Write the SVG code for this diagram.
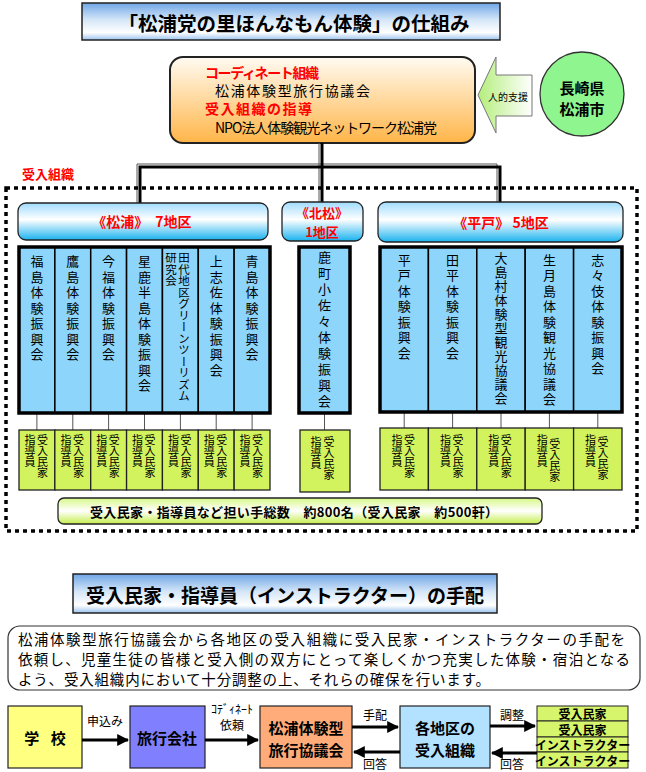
<svg xmlns="http://www.w3.org/2000/svg" width="646" height="772" viewBox="0 0 646 772">
<defs>
<linearGradient id="gTitle" x1="0" y1="0" x2="0" y2="1">
<stop offset="0" stop-color="#6fa6e6"/><stop offset="0.45" stop-color="#d4e6f8"/><stop offset="0.8" stop-color="#ffffff"/><stop offset="1" stop-color="#9cc4ee"/>
</linearGradient>
<linearGradient id="gHead" x1="0" y1="0" x2="0" y2="1">
<stop offset="0" stop-color="#a0dcff"/><stop offset="0.45" stop-color="#ffffff"/><stop offset="1" stop-color="#1ab2ef"/>
</linearGradient>
<linearGradient id="gCoord" x1="0" y1="0" x2="0" y2="1">
<stop offset="0" stop-color="#fffbf2"/><stop offset="1" stop-color="#ffb548"/>
</linearGradient>
<linearGradient id="gArrow" x1="0" y1="0" x2="1" y2="0">
<stop offset="0" stop-color="#b4ee7c"/><stop offset="1" stop-color="#ffffff"/>
</linearGradient>
<linearGradient id="gSum" x1="0" y1="0" x2="0" y2="1">
<stop offset="0" stop-color="#d8f888"/><stop offset="0.5" stop-color="#ffffff"/><stop offset="1" stop-color="#c4ee4c"/>
</linearGradient>
<marker id="ah" viewBox="0 0 10 10" refX="9" refY="5" markerWidth="4" markerHeight="4" orient="auto" markerUnits="strokeWidth">
<path d="M0,0 L10,5 L0,10 z" fill="#000"/>
</marker>
<style>
text{font-family:"Noto Sans CJK JP","Noto Sans",sans-serif;fill:#000}
.b{font-weight:bold}
.red{fill:#ff0000}
.vt{writing-mode:vertical-rl}
.col{fill:#8dd5fb;stroke:#000;stroke-width:1.5}
.colOut{fill:none;stroke:#000;stroke-width:3.5}
.sb{fill:#d2f35e;stroke:#222;stroke-width:1.3}
.head{fill:url(#gHead);stroke:#222;stroke-width:1.3}
.ttl{fill:url(#gTitle);stroke:#222;stroke-width:1.5}
.thin{stroke:#555;stroke-width:1;fill:none}
.fl{stroke:#000;stroke-width:3;fill:none;marker-end:url(#ah)}
.fb{stroke:#222;stroke-width:1.2}
.st{fill:#d6f56c;stroke:#222;stroke-width:1}
</style>
</defs>
<rect width="646" height="772" fill="#fff"/>

<g id="title">
<rect class="ttl" x="82" y="3" width="418" height="37"/>
<text class="b" x="294" y="22" font-size="19.5" text-anchor="middle" dominant-baseline="central">「松浦党の里ほんなもん体験」の仕組み</text>
</g>

<g id="coordinator">
<rect x="170" y="57" width="305" height="86" rx="13" fill="url(#gCoord)" stroke="#222" stroke-width="2"/>
<text class="b red" x="205" y="72" font-size="14" dominant-baseline="central" textLength="114">コーディネート組織</text>
<text x="215" y="90" font-size="14" dominant-baseline="central" textLength="155">松浦体験型旅行協議会</text>
<text class="b red" x="205" y="108" font-size="14" dominant-baseline="central" textLength="107">受入組織の指導</text>
<text x="215" y="127" font-size="14" dominant-baseline="central" textLength="222">NPO法人体験観光ネットワーク松浦党</text>
</g>

<g id="support-arrow">
<path d="M478,95 L496,57 L496,75 L532,75 L532,116 L496,116 L496,133 Z" fill="url(#gArrow)" stroke="#777" stroke-width="1"/>
<text x="508" y="96" font-size="10" text-anchor="middle" dominant-baseline="central">人的支援</text>
</g>

<g id="matsuura-city">
<circle cx="582" cy="94" r="42" fill="#8ff58f" stroke="#333" stroke-width="1.3"/>
<text class="b" x="582" y="87" font-size="15" text-anchor="middle" dominant-baseline="central">長崎県</text>
<text class="b" x="582" y="108" font-size="15" text-anchor="middle" dominant-baseline="central">松浦市</text>
</g>

<g id="connectors">
<path d="M137,203 V164 H497 V203 M319,143 V203" stroke="#555" stroke-width="1" fill="none"/>
<path d="M140,203 V167 H500 V203 M322,143 V203" stroke="#000" stroke-width="3" fill="none"/>
<path class="thin" d="M36.9,413 V430 M72.8,413 V430 M108.6,413 V430 M144.5,413 V430 M180.4,413 V430 M216.2,413 V430 M252.1,413 V430 M324.5,413 V430 M404.2,412 V428 M452.6,412 V428 M501,412 V428 M549.4,412 V428 M597.8,412 V428"/>
</g>

<g id="reception-area">
<text class="b red" x="22" y="173" font-size="13" dominant-baseline="central">受入組織</text>
<rect x="6" y="188" width="631" height="343" fill="none" stroke="#000" stroke-width="3.5" stroke-dasharray="4 4"/>
</g>

<g id="head-matsuura">
<rect class="head" x="18" y="203" width="250" height="37" rx="8"/>
<text class="b red" x="142" y="221" font-size="14" text-anchor="middle" dominant-baseline="central">《松浦》　7地区</text>
</g>
<g id="head-hokusho">
<rect class="head" x="282" y="202" width="81" height="39" rx="8"/>
<text class="b red" x="322" y="212.5" font-size="13" text-anchor="middle" dominant-baseline="central">《北松》</text>
<text class="b red" x="322" y="231" font-size="13" text-anchor="middle" dominant-baseline="central">1地区</text>
</g>
<g id="head-hirado">
<rect class="head" x="378" y="202" width="245" height="40" rx="8"/>
<text class="b red" x="501" y="222" font-size="14" text-anchor="middle" dominant-baseline="central">《平戸》 5地区</text>
</g>

<g id="matsuura-groups">
<rect class="col" x="19" y="247" width="35.86" height="166"/>
<rect class="col" x="54.86" y="247" width="35.86" height="166"/>
<rect class="col" x="90.71" y="247" width="35.86" height="166"/>
<rect class="col" x="126.57" y="247" width="35.86" height="166"/>
<rect class="col" x="162.43" y="247" width="35.86" height="166"/>
<rect class="col" x="198.29" y="247" width="35.86" height="166"/>
<rect class="col" x="234.14" y="247" width="35.86" height="166"/>
<rect class="colOut" x="19" y="247" width="251" height="166"/>
<text class="vt" x="36.9" y="255" font-size="13" letter-spacing="2.5">福島体験振興会</text>
<text class="vt" x="72.8" y="255" font-size="13" letter-spacing="2.5">鷹島体験振興会</text>
<text class="vt" x="108.6" y="255" font-size="13" letter-spacing="2.5">今福体験振興会</text>
<text class="vt" x="144.5" y="255" font-size="13" letter-spacing="2.5">星鹿半島体験振興会</text>
<text class="vt" x="184" y="252" font-size="11.5">田代地区グリーンツーリズム</text>
<text class="vt" x="171" y="252" font-size="11.5">研究会</text>
<text class="vt" x="216.2" y="255" font-size="13" letter-spacing="2.5">上志佐体験振興会</text>
<text class="vt" x="252.1" y="255" font-size="13" letter-spacing="2.5">青島体験振興会</text>
</g>

<g id="hokusho-group">
<rect class="col" x="299" y="247" width="51" height="166"/>
<rect class="colOut" x="299" y="247" width="51" height="166"/>
<text class="vt" x="324.5" y="250.5" font-size="13" letter-spacing="3">鹿町小佐々体験振興会</text>
</g>

<g id="hirado-groups">
<rect class="col" x="380" y="247" width="48.4" height="165"/>
<rect class="col" x="428.4" y="247" width="48.4" height="165"/>
<rect class="col" x="476.8" y="247" width="48.4" height="165"/>
<rect class="col" x="525.2" y="247" width="48.4" height="165"/>
<rect class="col" x="573.6" y="247" width="48.4" height="165"/>
<rect class="colOut" x="380" y="247" width="242" height="165"/>
<text class="vt" x="404.2" y="253.5" font-size="13" letter-spacing="2.5">平戸体験振興会</text>
<text class="vt" x="452.6" y="253.5" font-size="13" letter-spacing="2.5">田平体験振興会</text>
<text class="vt" x="501" y="252" font-size="13" letter-spacing="1">大島村体験型観光協議会</text>
<text class="vt" x="549.4" y="253.5" font-size="13" letter-spacing="2.5">生月島体験観光協議会</text>
<text class="vt" x="597.8" y="253.5" font-size="13" letter-spacing="2.5">志々伎体験振興会</text>
</g>

<g id="staff-matsuura">
<rect class="sb" x="19" y="430" width="35.86" height="60"/>
<rect class="sb" x="54.86" y="430" width="35.86" height="60"/>
<rect class="sb" x="90.71" y="430" width="35.86" height="60"/>
<rect class="sb" x="126.57" y="430" width="35.86" height="60"/>
<rect class="sb" x="162.43" y="430" width="35.86" height="60"/>
<rect class="sb" x="198.29" y="430" width="35.86" height="60"/>
<rect class="sb" x="234.14" y="430" width="35.86" height="60"/>
<g font-size="11">
<text class="vt" x="30" y="434">指導員</text><text class="vt" x="42.5" y="434">受入民家</text>
<text class="vt" x="65.9" y="434">指導員</text><text class="vt" x="78.4" y="434">受入民家</text>
<text class="vt" x="101.7" y="434">指導員</text><text class="vt" x="114.2" y="434">受入民家</text>
<text class="vt" x="137.6" y="434">指導員</text><text class="vt" x="150.1" y="434">受入民家</text>
<text class="vt" x="173.4" y="434">指導員</text><text class="vt" x="185.9" y="434">受入民家</text>
<text class="vt" x="209.3" y="434">指導員</text><text class="vt" x="221.8" y="434">受入民家</text>
<text class="vt" x="245.1" y="434">指導員</text><text class="vt" x="257.6" y="434">受入民家</text>
</g>
</g>

<g id="staff-hokusho">
<rect class="sb" x="300" y="430" width="50" height="62"/>
<text class="vt" x="316" y="436" font-size="11">指導員</text>
<text class="vt" x="329" y="436" font-size="11">受入民家</text>
</g>

<g id="staff-hirado">
<rect class="sb" x="380" y="428" width="48.4" height="62"/>
<rect class="sb" x="428.4" y="428" width="48.4" height="62"/>
<rect class="sb" x="476.8" y="428" width="48.4" height="62"/>
<rect class="sb" x="525.2" y="428" width="48.4" height="62"/>
<rect class="sb" x="573.6" y="428" width="48.4" height="62"/>
<g font-size="11">
<text class="vt" x="397" y="434">指導員</text><text class="vt" x="409.5" y="434">受入民家</text>
<text class="vt" x="445.4" y="434">指導員</text><text class="vt" x="457.9" y="434">受入民家</text>
<text class="vt" x="493.8" y="434">指導員</text><text class="vt" x="506.3" y="434">受入民家</text>
<text class="vt" x="542.2" y="434">指導員</text><text class="vt" x="554.7" y="438">受入民家</text>
<text class="vt" x="590.6" y="434">指導員</text><text class="vt" x="603.1" y="436">受入民家</text>
</g>
</g>

<g id="total">
<rect x="58" y="498" width="484" height="26" rx="6" fill="url(#gSum)" stroke="#222" stroke-width="1.3"/>
<text class="b" x="294" y="511" font-size="13" text-anchor="middle" dominant-baseline="central" textLength="408">受入民家・指導員など担い手総数　約800名（受入民家　約500軒）</text>
</g>

<g id="title2">
<rect class="ttl" x="73" y="574" width="424" height="39"/>
<text class="b" x="285" y="594" font-size="19" text-anchor="middle" dominant-baseline="central">受入民家・指導員（インストラクター）の手配</text>
</g>

<g id="description">
<rect x="8" y="626" width="632" height="64" rx="12" fill="#fff" stroke="#333" stroke-width="1.2"/>
<text x="18" y="638" font-size="14.5" dominant-baseline="central" textLength="607">松浦体験型旅行協議会から各地区の受入組織に受入民家・インストラクターの手配を</text>
<text x="18" y="658" font-size="14.5" dominant-baseline="central" textLength="612">依頼し、児童生徒の皆様と受入側の双方にとって楽しくかつ充実した体験・宿泊となる</text>
<text x="18" y="678" font-size="14.5" dominant-baseline="central" textLength="472">よう、受入組織内において十分調整の上、それらの確保を行います。</text>
</g>

<g id="school">
<rect class="fb" x="8" y="706" width="74" height="62" fill="#ffff80"/>
<text class="b" x="47" y="737" font-size="15" text-anchor="middle" dominant-baseline="central" letter-spacing="4">学 校</text>
</g>
<g id="travel-agency">
<rect class="fb" x="130" y="706" width="75" height="62" fill="#8080ff"/>
<text class="b" x="167" y="737" font-size="15" text-anchor="middle" dominant-baseline="central">旅行会社</text>
</g>
<g id="council">
<rect class="fb" x="260" y="706" width="92" height="62" fill="#ffac7a"/>
<text class="b" x="306" y="727" font-size="15" text-anchor="middle" dominant-baseline="central">松浦体験型</text>
<text class="b" x="306" y="749" font-size="15" text-anchor="middle" dominant-baseline="central">旅行協議会</text>
</g>
<g id="district-org">
<rect class="fb" x="400" y="706" width="90" height="62" fill="#b2e2ff"/>
<text class="b" x="445" y="727" font-size="15" text-anchor="middle" dominant-baseline="central">各地区の</text>
<text class="b" x="445" y="749" font-size="15" text-anchor="middle" dominant-baseline="central">受入組織</text>
</g>
<g id="providers">
<rect class="st" x="537" y="706" width="91" height="15"/>
<rect class="st" x="537" y="721" width="91" height="16"/>
<rect class="st" x="537" y="737" width="91" height="15"/>
<rect class="st" x="537" y="752" width="91" height="16"/>
<text class="b" x="582.5" y="713.5" font-size="12" text-anchor="middle" dominant-baseline="central">受入民家</text>
<text class="b" x="582.5" y="729" font-size="12" text-anchor="middle" dominant-baseline="central">受入民家</text>
<text class="b" x="582.5" y="744.5" font-size="12" text-anchor="middle" dominant-baseline="central">インストラクター</text>
<text class="b" x="582.5" y="760" font-size="12" text-anchor="middle" dominant-baseline="central">インストラクター</text>
</g>

<g id="flow-connectors">
<path class="fl" d="M82,740 H128"/>
<path class="fl" d="M205,740 H258"/>
<path class="fl" d="M352,727 H398"/>
<path class="fl" d="M400,752 H354"/>
<path class="fl" d="M490,726 H535"/>
<path class="fl" d="M537,753 H492"/>
<g font-size="12">
<text x="105" y="720" text-anchor="middle" dominant-baseline="central">申込み</text>
<text x="232" y="708" text-anchor="middle" dominant-baseline="central">ｺﾃﾞｨﾈｰﾄ</text>
<text x="232" y="724" text-anchor="middle" dominant-baseline="central">依頼</text>
<text x="375" y="714" text-anchor="middle" dominant-baseline="central">手配</text>
<text x="375" y="763" text-anchor="middle" dominant-baseline="central">回答</text>
<text x="512" y="714" text-anchor="middle" dominant-baseline="central">調整</text>
<text x="512" y="763" text-anchor="middle" dominant-baseline="central">回答</text>
</g>
</g>
</svg>
